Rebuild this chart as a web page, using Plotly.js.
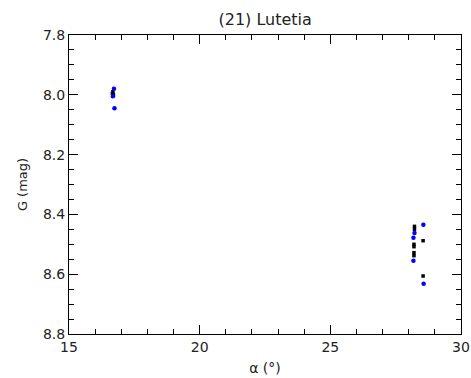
<!DOCTYPE html>
<html>
<head>
<meta charset="utf-8">
<script src="https://cdn.plot.ly/plotly-3.0.1.min.js"></script>
<style>html,body{margin:0;padding:0;background:#fff;}#plot{width:471px;height:378px;}</style>
</head>
<body>
<div id="plot"></div>
<script>
const blueAlpha = [16.72, 16.68, 16.74, 28.56, 28.22, 28.18, 28.18, 28.57];
const blueG     = [7.980, 8.005, 8.045, 8.435, 8.462, 8.478, 8.555, 8.632];
const blackAlpha = [16.68, 16.66, 16.70, 28.22, 28.22, 28.20, 28.20, 28.20, 28.20, 28.55, 28.55];
const blackG     = [7.990, 7.995, 8.000, 8.440, 8.450, 8.500, 8.508, 8.528, 8.538, 8.488, 8.606];
const xTicks = [15, 20, 25, 30];
const yTicks = [7.8, 8.0, 8.2, 8.4, 8.6, 8.8];

const fontFam = 'DejaVu Sans, sans-serif';
const traces = [
  {x: blackAlpha, y: blackG, mode: 'markers', type: 'scatter',
   marker: {color: '#000000', size: 3.5, symbol: 'square'}},
  {x: blueAlpha, y: blueG, mode: 'markers', type: 'scatter',
   marker: {color: '#0000ff', size: 4.5, symbol: 'circle'}}
];
const axisCommon = {
  showline: true, linecolor: '#000', linewidth: 1, mirror: 'ticks',
  ticks: 'inside', ticklen: 9, tickcolor: '#000', tickwidth: 1,
  showgrid: false, zeroline: false,
  tickfont: {family: fontFam, size: 14, color: '#222'}
};
const layout = {
  width: 471, height: 378,
  margin: {l: 69, r: 10, t: 35, b: 44},
  paper_bgcolor: '#fff', plot_bgcolor: '#fff',
  showlegend: false,
  title: {text: '(21) Lutetia', x: 0.563, xanchor: 'center', y: 0.948, yanchor: 'middle',
          font: {family: fontFam, size: 16, color: '#222'}},
  xaxis: Object.assign({}, axisCommon, {
    range: [15, 30], tickvals: xTicks, ticktext: xTicks.map(String),
    minor: {dtick: 1, ticklen: 5, tickcolor: '#000', ticks: 'inside'},
    title: {text: 'α (°)', standoff: 9, font: {family: fontFam, size: 14, color: '#222'}}
  }),
  yaxis: Object.assign({}, axisCommon, {
    range: [8.8, 7.8], tickvals: yTicks, ticktext: yTicks.map(v => v.toFixed(1)),
    minor: {dtick: 0.05, ticklen: 5, tickcolor: '#000', ticks: 'inside'},
    title: {text: 'G (mag)', standoff: 12, font: {family: fontFam, size: 13, color: '#222'}}
  })
};
Plotly.newPlot('plot', traces, layout, {displayModeBar: false, staticPlot: true});
</script>
</body>
</html>
